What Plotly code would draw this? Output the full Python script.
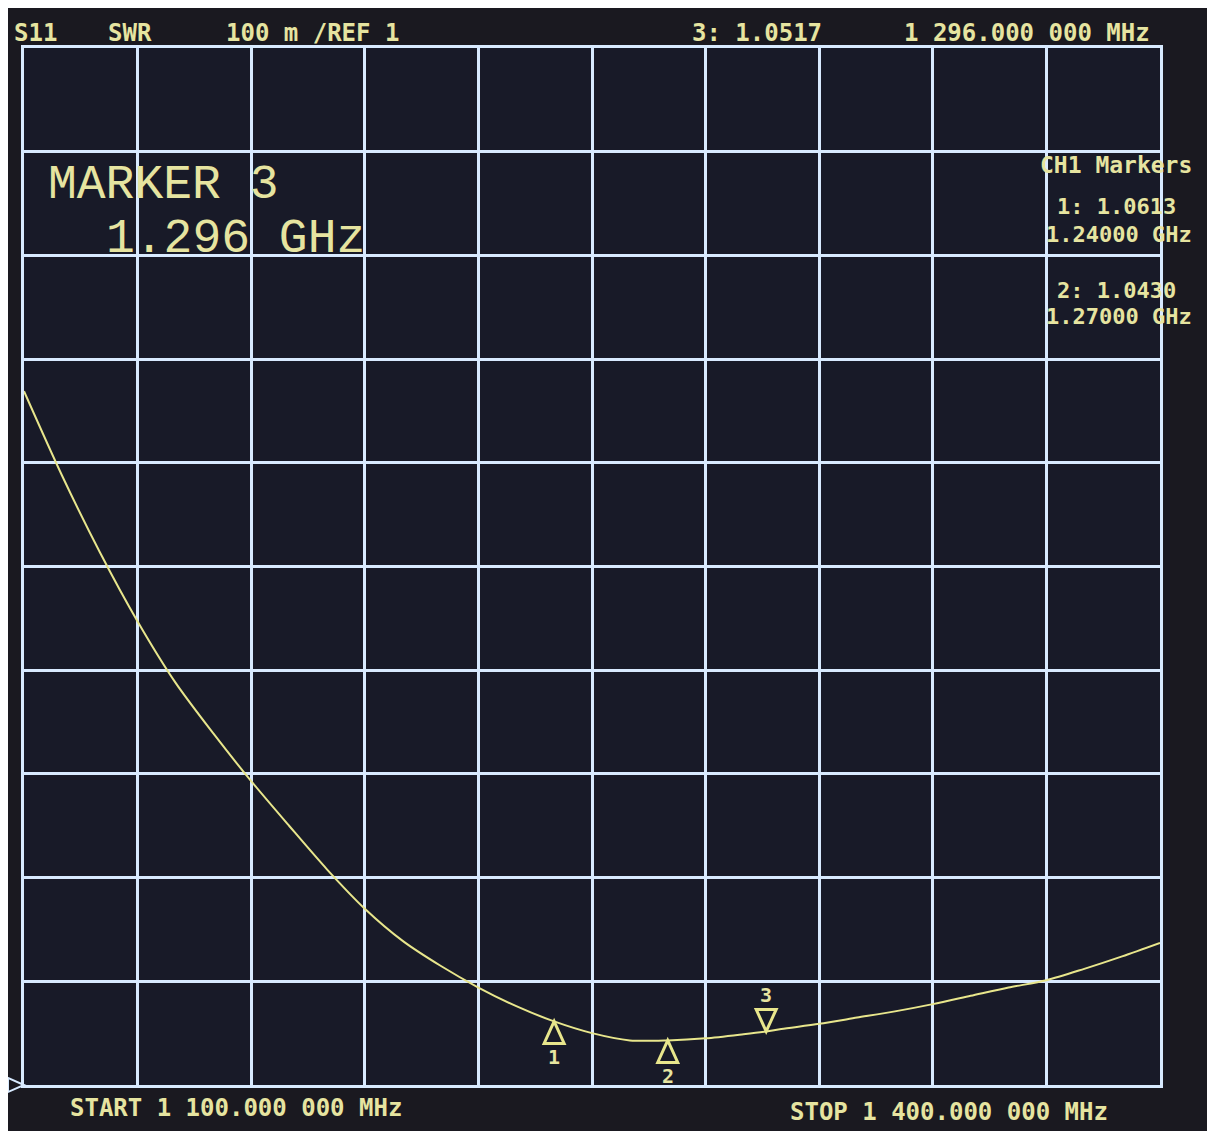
import plotly.graph_objects as go

# ---------------- data ----------------
freq_mhz = [1100, 1110, 1120, 1130, 1140, 1150, 1160, 1170, 1180, 1190,
            1200, 1210, 1220, 1230, 1240, 1250, 1260, 1270, 1280, 1290,
            1296, 1300, 1310, 1320, 1330, 1340, 1350, 1360, 1370, 1380,
            1390, 1400]
swr = [1.669, 1.588, 1.514, 1.447, 1.388, 1.339, 1.293, 1.250, 1.208, 1.170,
       1.139, 1.115, 1.094, 1.076, 1.0613, 1.050, 1.043, 1.0430, 1.045, 1.049,
       1.0517, 1.054, 1.059, 1.065, 1.071, 1.078, 1.086, 1.094, 1.101, 1.112,
       1.124, 1.137]

marker_ids = [1, 2, 3]
marker_freq = [1240, 1270, 1296]
marker_swr = [1.0613, 1.0430, 1.0517]
active_marker = 3

start_mhz, stop_mhz = 1100, 1400
ref_value = 1.0
scale_per_div = 0.1

# ---------------- style ----------------
W, H = 1215, 1131
OFF = 8  # page offset of the figure (body margin)
L, R, T, B = 24 - OFF, 1160 - OFF, 48 - OFF, 1085 - OFF
GRID = "#d8eaff"
TRACE = "#e8e68c"
TXT = "#e6e4a0"
MONO = "DejaVu Sans Mono"


def pp(x, y):
    """page pixel -> paper coordinates"""
    x -= OFF
    y -= OFF
    return (x - L) / (R - L), (B - y) / (B - T)


fig = go.Figure()
fig.add_trace(go.Scatter(x=freq_mhz, y=swr, mode="lines",
                         line=dict(color=TRACE, width=2, shape="spline",
                                   smoothing=0.8),
                         hoverinfo="skip", showlegend=False))

shapes = []
annotations = []

# markers (triangles with their numbers)
for mid, mf, mv in zip(marker_ids, marker_freq, marker_swr):
    if mid == active_marker:
        path = "M0,0 L-10,22 L10,22 Z"
        yshift = 36
    else:
        path = "M0,0 L-10,-22 L10,-22 Z"
        yshift = -36
    shapes.append(dict(type="path", xref="x", yref="y", xsizemode="pixel",
                       ysizemode="pixel", xanchor=mf, yanchor=mv, path=path,
                       line=dict(color=TRACE, width=3)))
    annotations.append(dict(x=mf, y=mv, xref="x", yref="y", text=str(mid),
                            showarrow=False, yshift=yshift,
                            font=dict(family=MONO, size=20, color=TXT,
                                      weight="bold")))

# reference-level indicator at left edge
shapes.append(dict(type="path", xref="paper", yref="paper", xsizemode="pixel",
                   ysizemode="pixel", xanchor=0, yanchor=0,
                   path="M-16,7 L0,0 L-16,-7 Z",
                   line=dict(color=GRID, width=2)))


def txt(text, x, y, anchor="left", size=24, family=MONO, bold=True):
    px, py = pp(x, y)
    annotations.append(dict(x=px, y=py, xref="paper", yref="paper",
                            text=text, showarrow=False, xanchor=anchor,
                            yanchor="middle",
                            font=dict(family=family, size=size, color=TXT,
                                      weight="bold" if bold else "normal")))


act = marker_ids.index(active_marker)
txt("S11", 12, 33)
txt("SWR", 106, 33)
txt(f"{int(scale_per_div*1000)} m /REF {ref_value:g}", 224, 33)
txt(f"{active_marker}: {marker_swr[act]:.4f}", 690, 33)
f_act = marker_freq[act]
txt(f"{f_act//1000} {f_act%1000:03d}.000 000 MHz", 1152, 33, anchor="right")

txt(f"MARKER {active_marker}", 46, 185, size=48, family="Liberation Mono",
    bold=False)
txt(f"{f_act/1000:.3f} GHz", 104, 239, size=48, family="Liberation Mono",
    bold=False)

txt("CH1 Markers", 1194, 165, anchor="right", size=23)
rows = [(207, 234), (290, 317)]
for (ya, yb), mid, mf, mv in zip(rows, marker_ids[:2], marker_freq[:2],
                                 marker_swr[:2]):
    txt(f"{mid}: {mv:.4f}", 1178, ya, anchor="right", size=22)
    txt(f"{mf/1000:.5f} GHz", 1194, yb, anchor="right", size=22)

txt(f"START {start_mhz//1000} {start_mhz%1000:03d}.000 000 MHz", 68, 1108)
txt(f"STOP {stop_mhz//1000} {stop_mhz%1000:03d}.000 000 MHz", 788, 1112)

axis_common = dict(showgrid=True, gridcolor=GRID, gridwidth=3,
                   showline=True, linecolor=GRID, linewidth=3, mirror=True,
                   zeroline=False, showticklabels=False, ticks="")

fig.update_layout(
    width=W, height=H,
    margin=dict(l=L, r=W - R, t=T, b=H - B),
    paper_bgcolor="#1a1920",
    plot_bgcolor="#181a28",
    xaxis=dict(range=[start_mhz, stop_mhz], dtick=(stop_mhz - start_mhz) / 10,
               tick0=start_mhz, **axis_common),
    yaxis=dict(range=[ref_value, ref_value + 10 * scale_per_div],
               dtick=scale_per_div, tick0=ref_value, **axis_common),
    shapes=shapes,
    annotations=annotations,
    showlegend=False,
)

fig.write_html("out.html")
